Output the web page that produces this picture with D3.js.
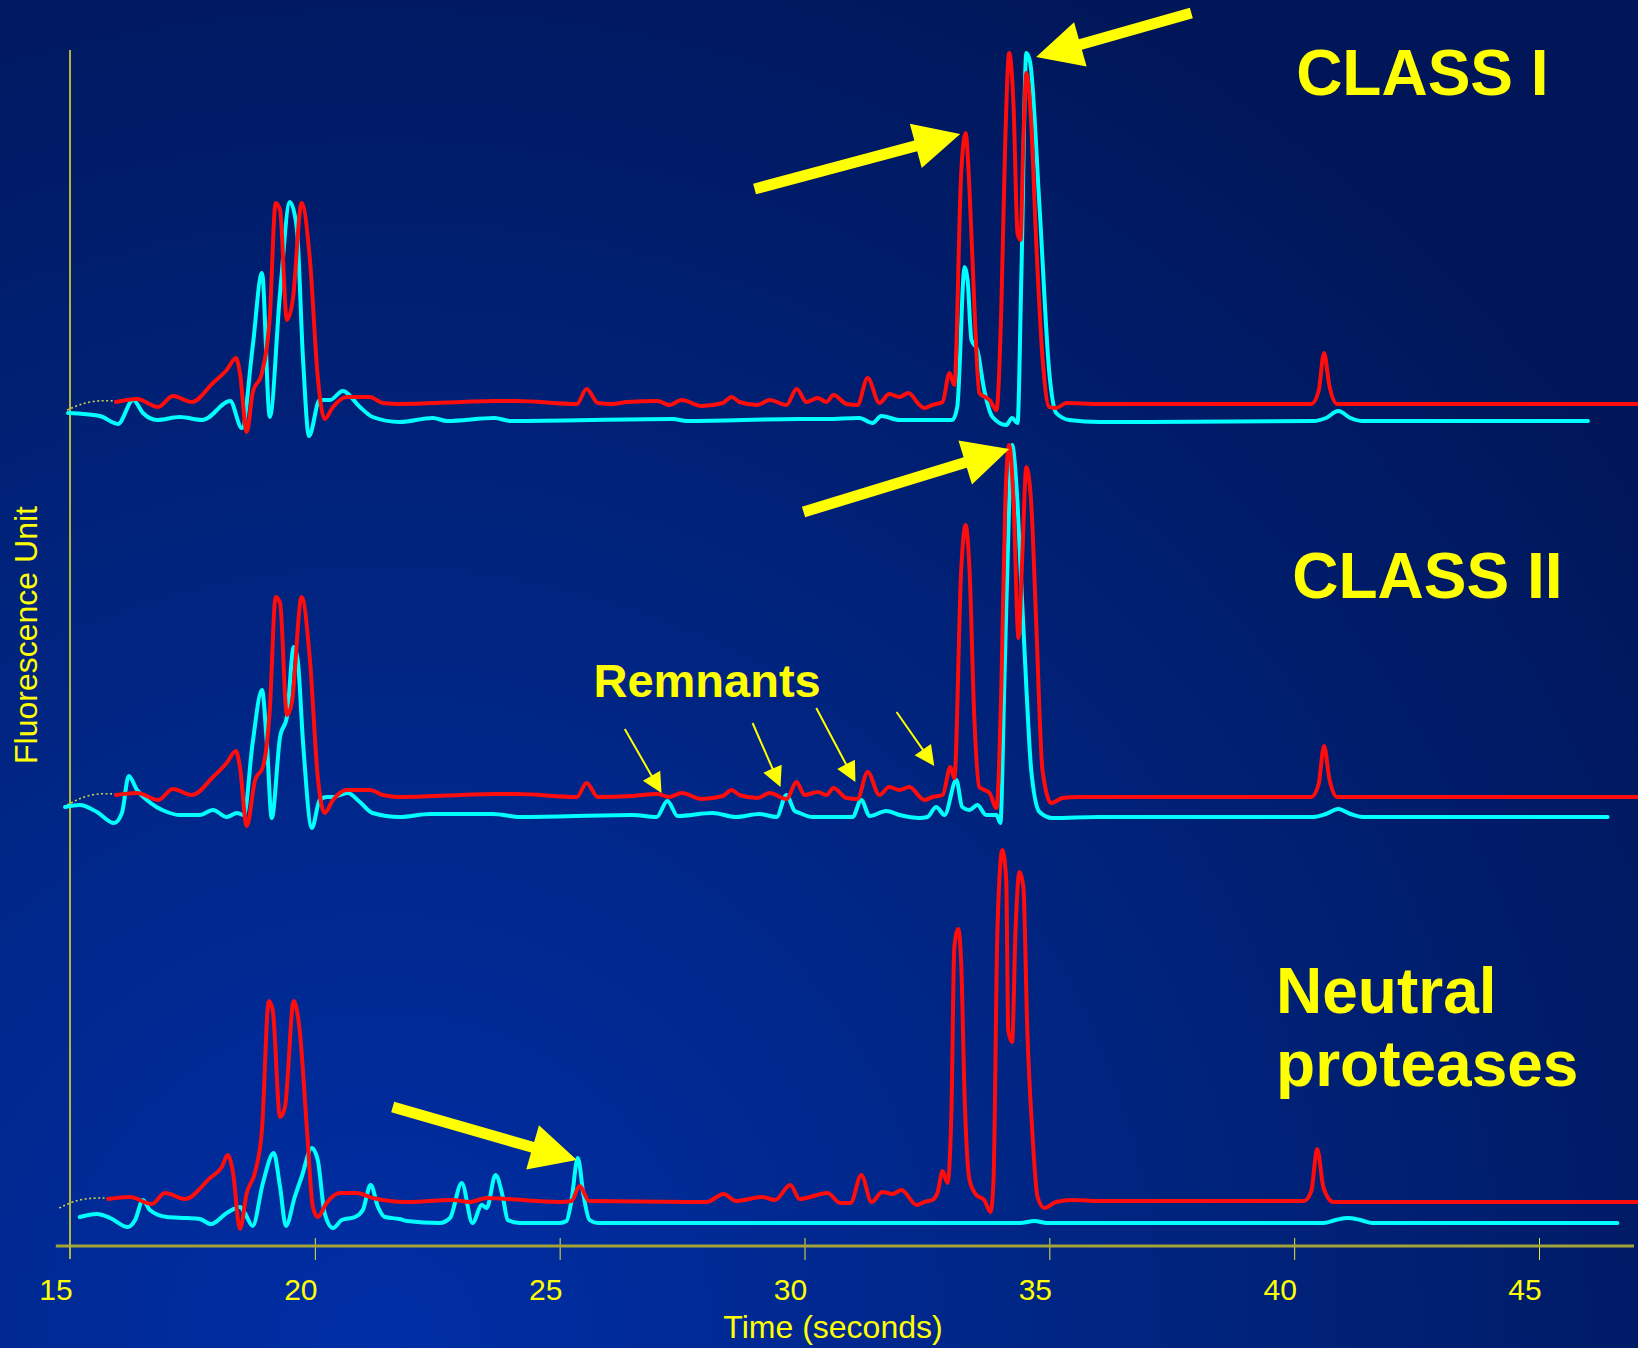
<!DOCTYPE html>
<html>
<head>
<meta charset="utf-8">
<script src="https://cdn.jsdelivr.net/npm/d3@7"></script>
<style>
  html, body { margin: 0; padding: 0; background: #001a60; }
  svg { display: block; }
</style>
</head>
<body>
<div id="chart"></div>
<script>
const width = 1638, height = 1348;

const timeTicks = [15, 20, 25, 30, 35, 40, 45];

// traces, as [time (s), fluorescence]
const classICyan = [
  [14.96, 83.3], [15.61, 83.0], [15.98, 82.2], [16.29, 84.6], [16.49, 83.3], [16.78, 82.6], [17.24, 82.9],
  [17.71, 82.6], [18.27, 84.5], [18.51, 81.8], [18.73, 89.9], [18.92, 97.3], [19.08, 82.9], [19.29, 95.3],
  [19.49, 104.4], [19.63, 101.9], [19.76, 88.6], [19.88, 81.0], [20.10, 84.6], [20.31, 84.6], [20.57, 85.5],
  [20.92, 83.9], [21.18, 82.9], [21.73, 82.4], [22.41, 82.8], [22.7, 82.5], [23.67, 82.8], [24.0, 82.5],
  [27.31, 82.7], [27.6, 82.5], [29.9, 82.7], [30.45, 82.7], [31.12, 82.8], [31.39, 82.3], [31.57, 83.0],
  [31.94, 82.6], [33.02, 82.6], [33.12, 83.9], [33.27, 97.9], [33.33, 96.6], [33.41, 90.6], [33.53, 89.6],
  [33.67, 85.6], [33.84, 82.9], [34.12, 82.1], [34.24, 82.8], [34.35, 82.3], [34.43, 97.3], [34.53, 119.3],
  [34.61, 118.3], [34.80, 103.9], [35.0, 87.3], [35.14, 83.3], [35.41, 82.6], [36.02, 82.4], [40.4, 82.5],
  [40.65, 82.8], [40.9, 83.5], [41.15, 82.8], [41.4, 82.5], [46.0, 82.5]
];
const classIRed = [
  [15.94, 84.4], [16.37, 84.7], [16.80, 83.9], [17.10, 85.0], [17.49, 84.4], [17.92, 86.3], [18.20, 87.6],
  [18.39, 88.8], [18.47, 87.3], [18.61, 81.4], [18.73, 85.3], [18.92, 87.3], [19.08, 92.9], [19.20, 104.3],
  [19.29, 103.6], [19.43, 92.6], [19.55, 94.6], [19.73, 104.3], [19.90, 98.6], [20.06, 86.9], [20.20, 82.7],
  [20.37, 83.9], [20.65, 84.9], [21.12, 84.9], [21.39, 84.3], [21.73, 84.2], [23.00, 84.4], [23.67, 84.5],
  [24.12, 84.5], [25.35, 84.2], [25.55, 85.7], [25.78, 84.3], [26.08, 84.2], [26.37, 84.4], [27.00, 84.5],
  [27.24, 84.1], [27.49, 84.6], [27.90, 84.0], [28.33, 84.3], [28.51, 84.9], [28.67, 84.4], [29.04, 84.1],
  [29.29, 84.6], [29.63, 84.1], [29.84, 85.7], [30.04, 84.4], [30.27, 84.8], [30.45, 84.4], [30.59, 85.1],
  [30.86, 84.2], [31.08, 84.1], [31.29, 86.8], [31.53, 84.3], [31.73, 85.2], [31.94, 84.9], [32.12, 85.3],
  [32.35, 84.1], [32.45, 83.8], [32.61, 84.1], [32.82, 84.4], [32.96, 87.3], [33.06, 86.1], [33.20, 107.3],
  [33.29, 111.3], [33.37, 105.6], [33.47, 93.9], [33.57, 85.3], [33.78, 84.6], [33.92, 83.6], [34.02, 93.9],
  [34.10, 110.6], [34.18, 119.3], [34.27, 113.9], [34.35, 101.3], [34.41, 100.6], [34.47, 110.6],
  [34.53, 117.3], [34.63, 112.3], [34.73, 100.6], [34.86, 88.9], [35.0, 83.9], [35.14, 83.8], [35.35, 84.3],
  [36.02, 84.2], [40.35, 84.2], [40.5, 85.5], [40.61, 89.3], [40.72, 86.0], [40.88, 84.2], [47.0, 84.2]
];
const classIICyan = [
  [14.90, 43.9], [15.20, 44.1], [15.55, 43.4], [15.90, 42.3], [16.06, 43.3], [16.20, 47.0], [16.37, 45.6],
  [16.57, 44.6], [16.98, 43.4], [17.24, 43.1], [17.65, 43.1], [17.92, 43.6], [18.20, 42.9], [18.41, 43.3],
  [18.55, 43.1], [18.73, 50.3], [18.92, 55.6], [19.02, 50.3], [19.12, 42.8], [19.29, 50.9], [19.43, 52.9],
  [19.57, 59.9], [19.65, 58.6], [19.76, 50.3], [19.94, 41.8], [20.10, 44.6], [20.24, 44.9], [20.37, 44.9],
  [20.67, 45.3], [20.92, 44.4], [21.18, 43.3], [21.73, 42.9], [22.35, 43.2], [23.63, 43.2], [24.2, 42.9],
  [26.49, 43.1], [26.98, 42.9], [27.20, 44.5], [27.41, 43.0], [28.12, 43.3], [28.6, 42.9], [29.08, 43.2],
  [29.43, 42.9], [29.63, 45.1], [29.80, 43.5], [29.90, 43.3], [30.16, 42.9], [30.98, 42.9], [31.16, 44.6],
  [31.33, 43.0], [31.67, 43.5], [31.94, 43.1], [32.35, 42.8], [32.51, 42.9], [32.69, 43.9], [32.86, 43.1],
  [33.10, 46.6], [33.22, 43.9], [33.37, 43.6], [33.53, 44.1], [33.71, 43.1], [33.92, 43.1], [34.00, 42.3],
  [34.08, 55.9], [34.18, 74.3], [34.24, 80.1], [34.33, 75.9], [34.43, 65.9], [34.53, 55.9], [34.63, 47.6],
  [34.80, 43.4], [35.06, 42.8], [36.02, 42.9], [40.4, 42.9], [40.65, 43.2], [40.9, 43.7], [41.15, 43.2],
  [41.4, 42.9], [46.4, 42.9]
];
const classIIRed = [
  [15.94, 45.1], [16.37, 45.3], [16.80, 44.6], [17.10, 45.7], [17.49, 45.1], [17.92, 46.9], [18.20, 48.3],
  [18.39, 49.5], [18.47, 47.9], [18.61, 42.0], [18.78, 46.6], [18.94, 47.9], [19.08, 53.6], [19.20, 64.9],
  [19.29, 64.3], [19.43, 53.1], [19.53, 54.3], [19.73, 64.9], [19.90, 58.6], [20.06, 46.9], [20.20, 43.3],
  [20.37, 44.6], [20.65, 45.6], [21.12, 45.6], [21.39, 45.1], [21.73, 44.9], [23.00, 45.1], [23.67, 45.2],
  [24.12, 45.2], [25.35, 44.9], [25.55, 46.3], [25.78, 44.9], [26.49, 45.0], [27.00, 45.2], [27.24, 44.9],
  [27.49, 45.3], [27.90, 44.7], [28.33, 45.0], [28.51, 45.6], [28.67, 45.1], [29.04, 44.8], [29.29, 45.3],
  [29.63, 44.7], [29.84, 46.4], [30.00, 45.1], [30.27, 45.4], [30.45, 45.1], [30.59, 45.8], [30.86, 44.8],
  [31.08, 44.7], [31.29, 47.4], [31.53, 45.1], [31.73, 45.9], [31.94, 45.6], [32.14, 45.9], [32.45, 44.6],
  [32.61, 44.9], [32.82, 45.1], [32.98, 47.9], [33.06, 46.8], [33.20, 67.6], [33.29, 72.1], [33.37, 67.6],
  [33.47, 52.6], [33.57, 45.9], [33.78, 45.3], [33.92, 43.8], [34.02, 55.9], [34.10, 74.3], [34.18, 80.1],
  [34.27, 74.3], [34.37, 60.8], [34.45, 69.3], [34.53, 77.9], [34.63, 74.3], [34.73, 62.6], [34.86, 47.6],
  [35.04, 44.3], [35.27, 44.8], [35.61, 44.9], [36.02, 44.9], [40.35, 44.9], [40.5, 46.2], [40.61, 50.0],
  [40.72, 46.7], [40.88, 44.9], [47.0, 44.9]
];
const neutralCyan = [
  [15.20, 2.9], [15.55, 3.2], [15.82, 2.8], [16.18, 1.9], [16.33, 2.6], [16.49, 4.6], [16.63, 3.6],
  [16.98, 2.9], [17.39, 2.8], [17.65, 2.7], [17.88, 2.2], [18.20, 3.3], [18.47, 3.9], [18.57, 3.3],
  [18.73, 2.0], [18.94, 6.3], [19.16, 9.3], [19.29, 5.9], [19.41, 2.0], [19.59, 4.9], [19.73, 6.9],
  [19.94, 9.8], [20.06, 8.6], [20.20, 3.3], [20.37, 1.8], [20.55, 2.6], [20.82, 2.9], [20.98, 3.6],
  [21.14, 6.1], [21.29, 3.9], [21.43, 2.9], [21.73, 2.7], [21.88, 2.5], [22.55, 2.3], [22.76, 2.8],
  [23.00, 6.3], [23.22, 2.3], [23.41, 4.1], [23.51, 3.8], [23.69, 7.1], [23.84, 4.9], [23.94, 2.6],
  [24.18, 2.3], [25.0, 2.3], [25.14, 2.5], [25.24, 4.5], [25.37, 8.8], [25.49, 5.0], [25.61, 2.6],
  [25.78, 2.3], [34.4, 2.3], [34.7, 2.5], [34.95, 2.3], [40.6, 2.3], [40.85, 2.6], [41.1, 2.8],
  [41.35, 2.6], [41.6, 2.3], [46.6, 2.3]
];
const neutralRed = [
  [15.78, 4.7], [16.22, 4.9], [16.67, 4.2], [16.94, 5.3], [17.35, 4.7], [17.86, 6.8], [18.10, 7.9],
  [18.22, 9.1], [18.33, 7.3], [18.47, 1.7], [18.61, 5.3], [18.78, 7.4], [18.92, 11.6], [19.06, 24.5],
  [19.14, 23.6], [19.29, 12.9], [19.39, 13.9], [19.57, 24.5], [19.69, 21.6], [19.84, 11.6], [19.96, 3.9],
  [20.06, 2.9], [20.24, 4.3], [20.51, 5.3], [20.86, 5.3], [21.18, 4.8], [21.88, 4.4], [22.82, 4.6],
  [23.16, 4.4], [23.51, 4.8], [23.92, 4.7], [25.0, 4.4], [25.24, 4.5], [25.41, 6.0], [25.6, 4.5],
  [28.0, 4.4], [28.35, 5.2], [28.6, 4.5], [29.14, 4.9], [29.4, 4.6], [29.71, 6.1], [29.9, 4.7],
  [30.47, 5.3], [30.73, 4.3], [30.94, 4.3], [31.16, 7.1], [31.37, 4.4], [31.59, 5.4], [31.8, 5.2],
  [31.98, 5.6], [32.29, 4.1], [32.45, 4.4], [32.61, 4.6], [32.72, 5.4], [32.82, 7.5], [32.92, 6.3],
  [33.00, 13.3], [33.06, 29.9], [33.14, 31.7], [33.20, 28.3], [33.27, 14.9], [33.37, 6.6], [33.51, 5.1],
  [33.67, 4.6], [33.80, 3.4], [33.86, 6.6], [33.94, 31.6], [34.04, 39.6], [34.12, 36.6], [34.16, 21.6],
  [34.24, 20.4], [34.31, 31.6], [34.39, 37.4], [34.47, 35.9], [34.55, 21.6], [34.65, 11.6], [34.76, 4.9],
  [34.90, 3.8], [35.14, 4.4], [35.47, 4.6], [36.02, 4.5], [40.2, 4.5], [40.35, 5.5], [40.47, 9.7],
  [40.6, 5.8], [40.8, 4.4], [47.0, 4.4]
];

// dotted lead-in from the axis to the start of each red trace
const leadIns = [
  [[14.94, 83.6], [15.41, 84.6], [15.94, 84.5]],
  [[14.94, 44.1], [15.41, 45.3], [15.94, 45.2]],
  [[14.78, 3.8], [15.2, 4.8], [15.78, 4.8]]
];

// annotations, [from, to] in data space
const bigArrows = [
  [[37.90, 123.3], [34.73, 118.9]],
  [[28.98, 105.7], [33.18, 111.2]],
  [[29.98, 73.4], [34.18, 79.7]],
  [[21.59, 13.9], [25.35, 8.6]]
];
const remnantArrows = [
  [[26.33, 51.7], [27.08, 45.3]],
  [[28.94, 52.3], [29.51, 45.9]],
  [[30.24, 53.8], [31.04, 46.4]],
  [[31.88, 53.4], [32.65, 48.0]]
];
const classLabels = [
  {lines: ['CLASS I'], t: 40.04, v: 115.1},
  {lines: ['CLASS II'], t: 39.96, v: 64.8},
  {lines: ['Neutral', 'proteases'], t: 39.63, v: 23.3}
];

const svg = d3.select('#chart')
  .append('svg')
  .attr('width', width)
  .attr('height', height);

// background
const grad = svg.append('defs').append('radialGradient')
  .attr('id', 'bg')
  .attr('gradientUnits', 'userSpaceOnUse')
  .attr('cx', 380).attr('cy', 1348).attr('r', 1550);
grad.append('stop').attr('offset', 0).attr('stop-color', '#002ea6');
grad.append('stop').attr('offset', 0.5).attr('stop-color', '#00247f');
grad.append('stop').attr('offset', 1).attr('stop-color', '#001658');
svg.append('rect').attr('width', width).attr('height', height).attr('fill', 'url(#bg)');

const x = d3.scaleLinear().domain([15, 45]).range([70, 1539]);
const y = d3.scaleLinear().domain([0, 120]).range([1246, 46]);

const font = 'Liberation Sans, Arial, Helvetica, sans-serif';
const yellow = '#ffff00';

// axes
const xaxis = d3.axisBottom(x).tickValues(timeTicks.slice(1)).tickSize(14).tickFormat('');
const gx = svg.append('g')
  .attr('transform', 'translate(0,' + y(0) + ')')
  .call(xaxis);
gx.select('.domain').remove();
gx.selectAll('.tick line').attr('y1', -8).attr('stroke', '#e6e63a').attr('stroke-width', 1);

svg.append('line')
  .attr('x1', x(14.71)).attr('x2', x(46.94))
  .attr('y1', y(0)).attr('y2', y(0))
  .attr('stroke', '#a3a338').attr('stroke-width', 3);
svg.append('line')
  .attr('x1', x(15)).attr('x2', x(15))
  .attr('y1', y(119.6)).attr('y2', y(-1.3))
  .attr('stroke', '#b4b43c').attr('stroke-width', 2);

// tick labels sit a little left of their ticks in the original
svg.append('g').selectAll('text')
  .data(timeTicks)
  .join('text')
  .attr('x', d => x(d) - 14)
  .attr('y', y(0) + 54)
  .attr('text-anchor', 'middle')
  .attr('font-family', font)
  .attr('font-size', 30)
  .attr('fill', yellow)
  .text(d => d);

svg.append('text')
  .attr('x', 833).attr('y', 1338)
  .attr('text-anchor', 'middle')
  .attr('font-family', font)
  .attr('font-size', 32)
  .attr('fill', yellow)
  .text('Time (seconds)');

svg.append('text')
  .attr('transform', 'translate(37,635) rotate(-90)')
  .attr('text-anchor', 'middle')
  .attr('font-family', font)
  .attr('font-size', 32)
  .attr('fill', yellow)
  .text('Fluorescence Unit');

// traces
const line = d3.line()
  .x(d => x(d[0]))
  .y(d => y(d[1]))
  .curve(d3.curveMonotoneX);

svg.append('g').selectAll('path')
  .data(leadIns)
  .join('path')
  .attr('d', d3.line().x(d => x(d[0])).y(d => y(d[1])).curve(d3.curveBasis))
  .attr('fill', 'none')
  .attr('stroke', '#d2d24a')
  .attr('stroke-width', 1.6)
  .attr('stroke-dasharray', '2,2.5');

const traces = [
  {data: classICyan, color: '#00ffff'},
  {data: classIICyan, color: '#00ffff'},
  {data: neutralCyan, color: '#00ffff'},
  {data: classIRed, color: '#ff0d0d'},
  {data: classIIRed, color: '#ff0d0d'},
  {data: neutralRed, color: '#ff0d0d'}
];

svg.append('g').selectAll('path')
  .data(traces)
  .join('path')
  .attr('d', d => line(d.data))
  .attr('fill', 'none')
  .attr('stroke', d => d.color)
  .attr('stroke-width', 4)
  .attr('stroke-linejoin', 'round')
  .attr('stroke-linecap', 'round');

// arrow polygon in pixel space
function arrowPoints(a, shaft, headLen, headHalf) {
  const x0 = x(a[0][0]), y0 = y(a[0][1]), x1 = x(a[1][0]), y1 = y(a[1][1]);
  const len = Math.hypot(x1 - x0, y1 - y0);
  const ux = (x1 - x0) / len, uy = (y1 - y0) / len;
  const nx = -uy, ny = ux;
  const bx = x1 - ux * headLen, by = y1 - uy * headLen;
  const s = shaft / 2;
  return [
    [x0 + nx * s, y0 + ny * s], [bx + nx * s, by + ny * s], [bx + nx * headHalf, by + ny * headHalf],
    [x1, y1],
    [bx - nx * headHalf, by - ny * headHalf], [bx - nx * s, by - ny * s], [x0 - nx * s, y0 - ny * s]
  ].join(' ');
}

svg.append('g').selectAll('polygon')
  .data(bigArrows)
  .join('polygon')
  .attr('points', d => arrowPoints(d, 11, 46, 23))
  .attr('fill', yellow);

svg.append('g').selectAll('polygon')
  .data(remnantArrows)
  .join('polygon')
  .attr('points', d => arrowPoints(d, 2, 20, 10))
  .attr('fill', yellow);

// labels
svg.append('text')
  .attr('x', x(25.69)).attr('y', y(54.9))
  .attr('font-family', font)
  .attr('font-weight', 'bold')
  .attr('font-size', 47)
  .attr('fill', yellow)
  .text('Remnants');

classLabels.forEach(l => {
  const t = svg.append('text')
    .attr('x', x(l.t)).attr('y', y(l.v))
    .attr('font-family', font)
    .attr('font-weight', 'bold')
    .attr('font-size', 64)
    .attr('fill', yellow);
  l.lines.forEach((s, i) => {
    t.append('tspan').attr('x', x(l.t)).attr('dy', i ? 73 : 0).text(s);
  });
});
</script>
</body>
</html>
